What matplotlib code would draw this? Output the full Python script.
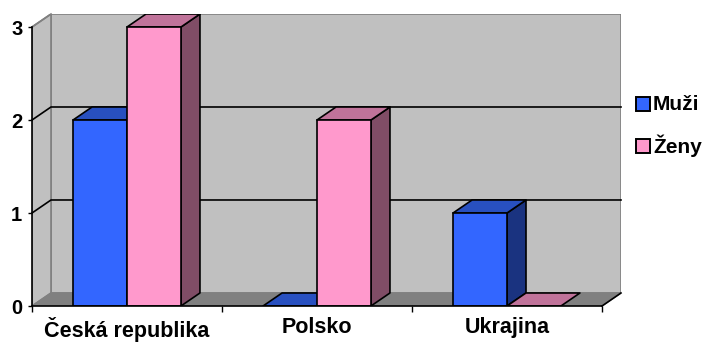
import matplotlib
matplotlib.use('Agg')
import matplotlib.pyplot as plt
from matplotlib.patches import Polygon, Rectangle

categories = ['Česká republika', 'Polsko', 'Ukrajina']
series_names = ['Muži', 'Ženy']
muzi = [2, 0, 1]
zeny = [3, 2, 0]
yticks = [0, 1, 2, 3]

front_cols = ['#3366FF', '#FF99CC']
top_cols = ['#2850C0', '#C0739A']
side_cols = ['#1A3380', '#804D66']

plt.rcParams['font.family'] = 'Liberation Sans'
plt.rcParams['font.weight'] = 'bold'

W, H = 705, 342
fig = plt.figure(figsize=(W / 100, H / 100), dpi=100)
DX, DY = 0.1, 0.14
ymax = max(yticks)
n = len(categories)
ax = fig.add_axes([32 / W, 36 / H, (621 - 32) / W, (328 - 36) / H])
ax.set_xlim(0, n + DX)
ax.set_ylim(0, ymax + DY)
for s in ax.spines.values():
    s.set_visible(False)
ax.patch.set_visible(False)

# walls
ax.add_patch(Polygon([(DX, DY), (n + DX, DY), (n + DX, ymax + DY), (DX, ymax + DY)],
                     closed=True, facecolor='#C0C0C0', edgecolor='#808080', lw=1.2, zorder=0))
ax.add_patch(Polygon([(0, 0), (DX, DY), (DX, ymax + DY), (0, ymax)],
                     closed=True, facecolor='#C0C0C0', edgecolor='#808080', lw=1.2, zorder=0))
ax.add_patch(Polygon([(0, 0), (n, 0), (n + DX, DY), (DX, DY)],
                     closed=True, facecolor='#808080', edgecolor='#808080', lw=1.0, zorder=0.5))

# gridlines
for v in yticks[1:-1]:
    ax.plot([0, DX, n + DX], [v, v + DY, v + DY], color='black', lw=1.2, zorder=1, clip_on=False)
ax.plot([0, DX], [ymax, ymax + DY], color='#808080', lw=1.2, zorder=1, clip_on=False)

# floor right edge
ax.plot([n, n + DX], [0, DY], color='black', lw=1.2, zorder=1, clip_on=False)

w = 0.284
data = [muzi, zeny]
for i in range(n):
    for j, vals in enumerate(data):
        v = vals[i]
        x0 = i + 0.5 - w + j * w
        x1 = x0 + w
        z = 3 + i * 2 + j
        if v > 0:
            ax.add_patch(Polygon([(x1, 0), (x1 + DX, DY), (x1 + DX, v + DY), (x1, v)],
                                 closed=True, facecolor=side_cols[j], edgecolor='black',
                                 lw=1.2, zorder=z, joinstyle='round'))
        ax.add_patch(Polygon([(x0, v), (x1, v), (x1 + DX, v + DY), (x0 + DX, v + DY)],
                             closed=True, facecolor=top_cols[j], edgecolor='black',
                             lw=1.2, zorder=z, joinstyle='round'))
        if v > 0:
            ax.bar([x0], [v], width=w, align='edge', color=front_cols[j],
                   edgecolor='black', lw=1.2, zorder=z)

# front axis lines
ax.plot([0, 0], [0, ymax], color='black', lw=1.2, zorder=20, clip_on=False)
ax.plot([0, n], [0, 0], color='black', lw=1.2, zorder=20, clip_on=False)

ax.set_yticks(yticks)
ax.set_yticklabels([str(t) for t in yticks], fontsize=14.5, fontweight='bold')
ax.tick_params(axis='y', direction='out', length=3, width=1.0, pad=4)
ax.set_xticks(range(n + 1))
ax.set_xticklabels([''] * (n + 1))
ax.tick_params(axis='x', which='major', direction='out', length=4.5, width=1.0)
ax.set_xticks([i + 0.5 for i in range(n)], minor=True)
ax.set_xticklabels(categories, minor=True, fontsize=15.5, fontweight='bold')
ax.tick_params(axis='x', which='minor', length=0, pad=8)

# legend
for k, name in enumerate(series_names):
    yc = 104 + 42 * k
    fig.add_artist(Rectangle((636 / W, (H - yc - 7) / H), 14 / W, 14 / H,
                             transform=fig.transFigure, facecolor=front_cols[k],
                             edgecolor='black', lw=1.4))
    fig.text(653 / W, (H - yc) / H, name, fontsize=15, fontweight='bold',
             va='center', ha='left')

fig.savefig('out.png', dpi=100)
